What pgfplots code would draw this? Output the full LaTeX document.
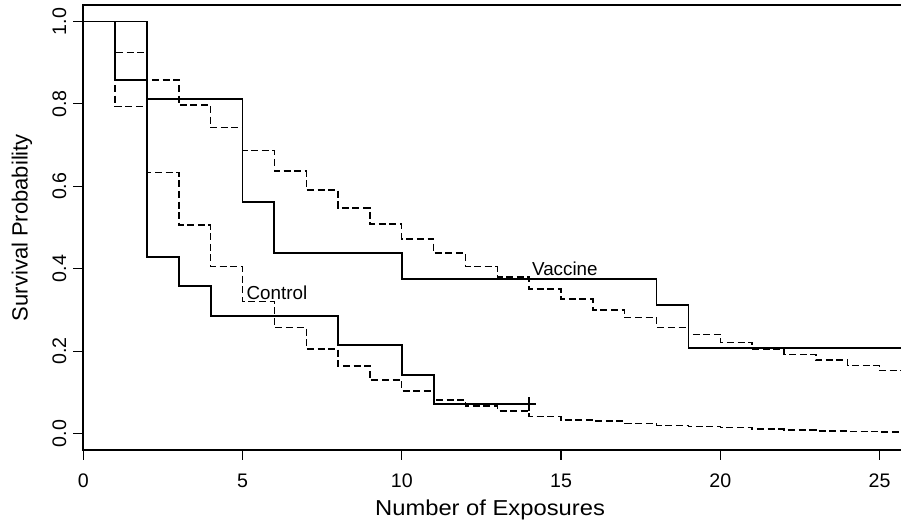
\documentclass[border=0pt]{standalone}
\usepackage{fontspec}
\setmainfont{Liberation Sans}
\usepackage{pgfplots}
\pgfplotsset{compat=1.18}
\begin{document}
\begin{tikzpicture}
\path[use as bounding box] (-41.65pt,-36.5pt) rectangle (408.85pt,225pt);
\begin{axis}[
  at={(0pt,0pt)}, anchor=south west,
  scale only axis, width=410.85pt, height=222.5pt,
  xmin=0, xmax=25.8, ymin=-0.04, ymax=1.04,
  xtick={0,5,10,15,20,25}, ytick={0,0.2,0.4,0.6,0.8,1.0},
  yticklabels={0.0,0.2,0.4,0.6,0.8,1.0},
  xtick pos=bottom, ytick pos=left,
  tick align=outside, major tick length=5pt,
  every tick/.style={black, line width=0.6pt},
  axis line style={black, line width=0.9pt},
  /pgf/number format/assume math mode=true,
  ticklabel style={font=\fontsize{9.8}{11}\selectfont},
  xticklabel style={anchor=north, yshift=-3.3pt},
  yticklabel style={rotate=90, anchor=south},
  xlabel={Number of Exposures}, ylabel={Survival Probability},
  xlabel style={font=\fontsize{10.8}{12}\selectfont, at={(axis description cs:0.495,-0.1348)}, anchor=center, xscale=1.1},
  ylabel style={font=\fontsize{11}{12}\selectfont, at={(axis description cs:-0.0746,0.5)}, anchor=center},
  clip=true,
]
% Vaccine KM (solid)
\addplot[const plot, black, line width=0.9pt] coordinates {
(0,1) (2,0.8125) (5,0.5625) (6,0.4375) (10,0.375) (18,0.3125) (19,0.2083) (25.8,0.2083)};
% Control KM (solid)
\addplot[const plot, black, line width=0.9pt] coordinates {
(0,1) (1,0.8571) (2,0.4286) (3,0.3571) (4,0.2857) (8,0.2143) (10,0.1429) (11,0.0714) (14,0.0714)};
\addplot[only marks, mark=+, mark size=3.3pt, black, line width=0.7pt] coordinates {(14,0.0714)};
% Vaccine fitted (dashed)
\addplot[const plot, black, line width=0.7pt, dash pattern=on 3.5pt off 1.8pt] coordinates {
(0,1) (1,0.925) (2,0.858) (3,0.797) (4,0.742) (5,0.687) (6,0.637) (7,0.591) (8,0.547)
(9,0.508) (10,0.472) (11,0.438) (12,0.405) (13,0.38) (14,0.351) (15,0.326) (16,0.300)
(17,0.281) (18,0.258) (19,0.241) (20,0.221) (21,0.205) (22,0.192) (23,0.178) (24,0.165)
(25,0.153) (25.8,0.153)};
% Control fitted (dashed)
\addplot[const plot, black, line width=0.7pt, dash pattern=on 3.5pt off 1.8pt] coordinates {
(0,1) (1,0.793) (2,0.634) (3,0.506) (4,0.405) (5,0.320) (6,0.257) (7,0.205) (8,0.164)
(9,0.130) (10,0.103) (11,0.081) (12,0.067) (13,0.055) (14,0.042) (15,0.033) (16,0.030)
(17,0.024) (18,0.020) (19,0.017) (20,0.014) (21,0.011) (22,0.009) (23,0.006) (24,0.005)
(25,0.004) (25.8,0.004)};
\node[font=\fontsize{9.4}{11}\selectfont, inner sep=0pt, anchor=center] at (axis cs:15.12,0.399) {Vaccine};
\node[font=\fontsize{9.4}{11}\selectfont, inner sep=0pt, anchor=center] at (axis cs:6.08,0.342) {Control};
\end{axis}
\end{tikzpicture}
\end{document}
